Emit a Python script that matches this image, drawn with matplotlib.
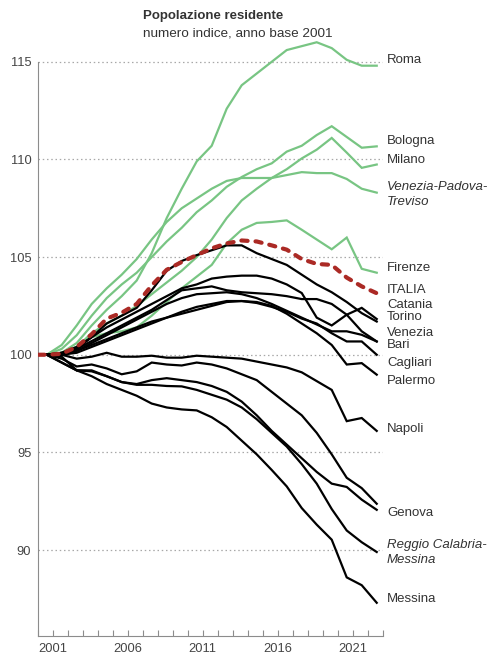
import numpy as np
import matplotlib
matplotlib.use("Agg")
import matplotlib.pyplot as plt

plt.rcParams['font.family'] = ['Liberation Sans', 'DejaVu Sans']

# anni 2001-2023, numero indice (2001 = 100)
years = np.arange(2001, 2024)

roma = [100, 100.1, 100.6, 101.5, 102.3, 103.0, 103.8, 105.2, 107.0, 108.5, 109.9, 110.7, 112.6,
        113.8, 114.4, 115.0, 115.6, 115.8, 116.0, 115.7, 115.1, 114.8, 114.8]
bologna = [100, 100.3, 101.0, 102.0, 102.9, 103.6, 104.2, 105.0, 105.8, 106.5, 107.3, 107.9, 108.6,
           109.1, 109.5, 109.8, 110.4, 110.7, 111.25, 111.7, 111.15, 110.6, 110.67]
milano = [100, 100.0, 100.4, 101.1, 101.6, 102.0, 102.5, 103.1, 103.7, 104.3, 105.0, 105.9, 107.0,
          107.9, 108.5, 109.05, 109.5, 110.05, 110.5, 111.1, 110.35, 109.57, 109.74]
ven_pad_tre = [100, 100.5, 101.5, 102.6, 103.4, 104.1, 104.9, 105.9, 106.8, 107.5, 108.0, 108.5, 108.9,
               109.05, 109.05, 109.05, 109.2, 109.35, 109.3, 109.3, 109.0, 108.5, 108.3]
firenze = [100, 100.1, 100.4, 100.9, 101.1, 101.2, 101.4, 102.0, 102.7, 103.4, 104.0, 104.6, 105.7,
           106.4, 106.75, 106.8, 106.88, 106.4, 105.9, 105.4, 106.0, 104.4, 104.2]
italia = [100, 100.05, 100.4, 101.05, 101.85, 102.15, 102.6, 103.55, 104.35, 104.75, 105.1, 105.45, 105.7,
          105.85, 105.8, 105.6, 105.38, 104.9, 104.65, 104.6, 103.95, 103.5, 103.15]

catania = [100, 100.1, 100.4, 100.9, 101.4, 101.8, 102.2, 102.6, 103.0, 103.4, 103.6, 103.9, 104.0,
           104.05, 104.05, 103.9, 103.6, 103.16, 101.9, 101.5, 102.05, 102.4, 101.83]
torino = [100, 100.0, 100.3, 100.9, 101.6, 102.0, 102.4, 103.3, 104.3, 104.8, 105.1, 105.35, 105.6,
          105.6, 105.2, 104.9, 104.6, 104.1, 103.6, 103.2, 102.7, 102.13, 101.7]
venezia = [100, 100.1, 100.3, 100.7, 101.1, 101.5, 101.9, 102.3, 102.8, 103.3, 103.4, 103.5, 103.3,
           103.2, 103.15, 103.1, 103.0, 102.85, 102.85, 102.6, 102.05, 101.2, 100.68]
bari = [100, 100.0, 100.2, 100.6, 101.0, 101.4, 101.8, 102.2, 102.6, 102.9, 103.1, 103.15, 103.2,
        103.1, 102.9, 102.6, 102.25, 101.9, 101.55, 101.2, 101.2, 101.02, 100.68]
cagliari = [100, 100.0, 100.2, 100.5, 100.8, 101.1, 101.4, 101.7, 101.9, 102.2, 102.45, 102.6, 102.75,
            102.75, 102.65, 102.45, 102.2, 101.85, 101.6, 101.1, 100.68, 100.68, 100.0]
palermo = [100, 100.0, 100.1, 100.4, 100.7, 101.0, 101.3, 101.6, 101.9, 102.1, 102.3, 102.5, 102.7,
           102.75, 102.7, 102.5, 102.1, 101.6, 101.1, 100.5, 99.5, 99.57, 98.98]
napoli = [100, 100.0, 99.8, 99.9, 100.1, 99.9, 99.9, 99.95, 99.85, 99.85, 99.95, 99.9, 99.85,
          99.8, 99.65, 99.5, 99.35, 99.1, 98.65, 98.2, 96.6, 96.76, 96.1]
genova = [100, 99.6, 99.2, 99.15, 98.9, 98.6, 98.5, 98.7, 98.8, 98.7, 98.6, 98.4, 98.1,
          97.6, 96.9, 96.1, 95.4, 94.7, 94.0, 93.4, 93.23, 92.58, 92.06]
altra = [100, 99.8, 99.4, 99.5, 99.3, 99.0, 99.15, 99.6, 99.5, 99.45, 99.6, 99.5, 99.3,
         99.0, 98.7, 98.1, 97.5, 96.9, 96.0, 94.9, 93.7, 93.17, 92.37]
reggio_messina = [100, 99.6, 99.2, 99.2, 98.9, 98.6, 98.46, 98.46, 98.4, 98.38, 98.2, 97.95, 97.7,
                  97.3, 96.7, 96.0, 95.3, 94.4, 93.4, 92.1, 91.0, 90.4, 89.9]
messina = [100, 99.9, 99.2, 98.9, 98.5, 98.2, 97.9, 97.5, 97.3, 97.2, 97.15, 96.8, 96.3,
           95.6, 94.9, 94.1, 93.26, 92.15, 91.3, 90.53, 88.6, 88.2, 87.3]

green_series = [roma, bologna, milano, ven_pad_tre, firenze]
black_series = [catania, torino, venezia, bari, cagliari, palermo, napoli, genova, altra,
                reggio_messina, messina]

labels = [("Roma", 115.07, False), ("Bologna", 110.92, False), ("Milano", 109.95, False),
          ("Venezia-Padova-\nTreviso", 108.19, True), ("Firenze", 104.44, False),
          ("ITALIA", 103.33, False), ("Catania", 102.56, False), ("Torino", 101.93, False),
          ("Venezia", 101.1, False), ("Bari", 100.51, False), ("Cagliari", 99.58, False),
          ("Palermo", 98.68, False), ("Napoli", 96.21, False), ("Genova", 91.9, False),
          ("Reggio Calabria-\nMessina", 89.89, True), ("Messina", 87.49, False)]

GREEN = '#78c583'
RED = '#ab2a25'
TXT = '#333333'
GREY = '#8c8c8c'

fig = plt.figure(figsize=(4.91, 6.57), dpi=100)
ax = fig.add_axes([0.078, 0.032, 0.7027, 0.9126])

# the series start at the axis on the base value, then yearly points mid-year
xs = np.r_[years[0], years + 0.56]

def ext(v):
    return np.r_[v[0], v]

for s in green_series:
    ax.plot(xs, ext(s), color=GREEN, lw=1.6, zorder=2, solid_joinstyle='miter')
for s in black_series:
    ax.plot(xs, ext(s), color='black', lw=1.6, zorder=3, solid_joinstyle='miter')
ax.plot(xs, ext(italia), color=RED, lw=3, zorder=4, dashes=(1.5, 1.9), dash_capstyle='round')

ax.set_xlim(2001, 2024)
ax.set_ylim(85.6, 116.3)

ax.set_yticks([90, 95, 100, 105, 110, 115])
ax.grid(axis='y', color='#a8a8a8', lw=0.9, linestyle=(0, (1.2, 2.2)), zorder=1)
ax.tick_params(axis='y', length=0, pad=5, labelsize=9.3, labelcolor='#444444')

ax.set_xticks(np.arange(2001, 2025))
ax.set_xticklabels([str(y) if (y - 2001) % 5 == 0 and y < 2024 else '' for y in range(2001, 2025)])
ax.tick_params(axis='x', direction='in', length=4.3, width=0.8, color=GREY, pad=5,
               labelsize=9.3, labelcolor='#444444')
for t in ax.get_xticklabels():
    t.set_horizontalalignment('left')

for side in ['top', 'right']:
    ax.spines[side].set_visible(False)
ax.spines['left'].set_color(GREY)
ax.spines['bottom'].set_color(GREY)
ax.spines['left'].set_bounds(85.6, 115)

for name, yv, ital in labels:
    ax.text(2024.25, yv, name, fontsize=9.5, color=TXT, va='center', ha='left',
            style='italic' if ital else 'normal', linespacing=1.35, clip_on=False)

fig.text(143 / 491, 1 - 19.5 / 657, "Popolazione residente", fontsize=9.5, fontweight='bold',
         color=TXT, va='baseline', ha='left')
fig.text(143 / 491, 1 - 36.5 / 657, "numero indice, anno base 2001", fontsize=9.7,
         color=TXT, va='baseline', ha='left')

fig.savefig('out.png', dpi=100)
